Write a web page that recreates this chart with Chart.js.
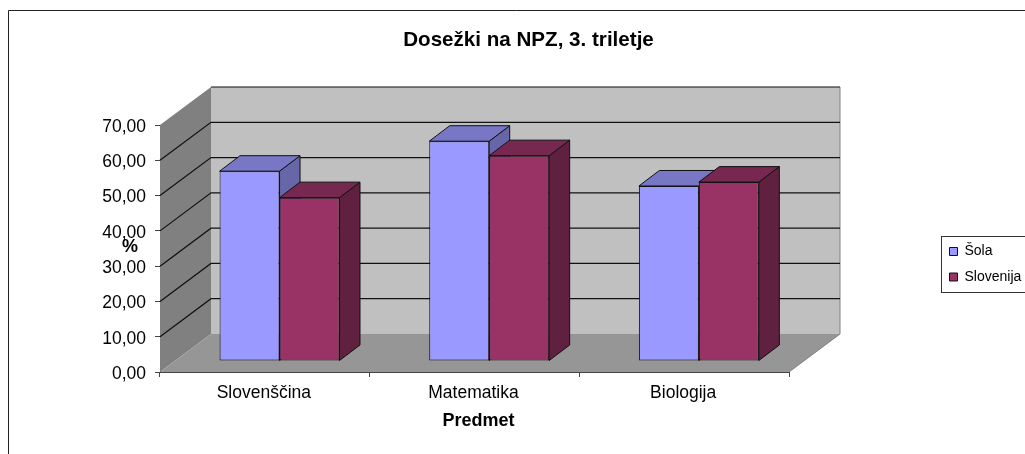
<!DOCTYPE html>
<html>
<head>
<meta charset="utf-8">
<style>html,body{margin:0;padding:0;background:#fff}canvas{display:block}</style>
<script src="https://cdn.jsdelivr.net/npm/chart.js@4"></script>
</head>
<body>
<canvas id="c" width="1025" height="454"></canvas>
<script>
const categories = ['Slovenščina', 'Matematika', 'Biologija'];
const sola = [53.8, 62.3, 49.6];
const slovenija = [46.3, 58.2, 50.7];
const seriesNames = ['Šola', 'Slovenija'];
const frontColors = ['#9999FF', '#993366'];
const topColors = ['#7777C6', '#772850'];
const sideColors = ['#6666A8', '#602040'];
const chartTitle = 'Dosežki na NPZ, 3. triletje';
const xTitle = 'Predmet';
const yTitle = '%';
const yMax = 70;
const yStep = 10;

const wallDx = 51, wallDy = -38;        // full depth of the 3D box
const barShiftX = 14.7, barShiftY = -11; // bars stand inside the box
const barDx = 20.5, barDy = -15.5;      // depth of one bar
const FONT = '"Liberation Sans", Arial, sans-serif';

function poly(ctx, pts, fill, stroke, lw) {
  ctx.beginPath();
  pts.forEach((p, i) => i ? ctx.lineTo(p[0], p[1]) : ctx.moveTo(p[0], p[1]));
  ctx.closePath();
  if (fill) { ctx.fillStyle = fill; ctx.fill(); }
  if (stroke) { ctx.strokeStyle = stroke; ctx.lineWidth = lw || 1; ctx.stroke(); }
}

const scene3d = {
  id: 'scene3d',
  afterLayout(chart) {
    const lg = chart.legend, t = chart.titleBlock;
    const w = lg.right - lg.left, h = lg.bottom - lg.top;
    lg.left = 938; lg.right = 938 + w; lg.top = 233; lg.bottom = 233 + h;
    t.left = 403; t.right = 654; t.top = 28; t.bottom = 52.7;
  },
  beforeDraw(chart) {
    const ctx = chart.ctx;
    ctx.save();
    ctx.strokeStyle = '#222'; ctx.lineWidth = 1;
    ctx.beginPath();
    ctx.moveTo(8.5, 454); ctx.lineTo(8.5, 10.5); ctx.lineTo(1025, 10.5);
    ctx.stroke();
    ctx.strokeStyle = '#333';
    ctx.strokeRect(941.5, 236.5, 90, 56);
    ctx.restore();
  },
  beforeDatasetsDraw(chart) {
    const ctx = chart.ctx, x = chart.scales.x, y = chart.scales.y;
    const L = x.left, R = x.right, T = y.getPixelForValue(yMax), B = y.getPixelForValue(0);
    ctx.save();
    // walls and floor
    poly(ctx, [[L + wallDx, T + wallDy], [R + wallDx, T + wallDy], [R + wallDx, B + wallDy], [L + wallDx, B + wallDy]], '#C0C0C0');
    poly(ctx, [[L, T], [L + wallDx, T + wallDy], [L + wallDx, B + wallDy], [L, B]], '#808080');
    poly(ctx, [[L, B], [L + wallDx, B + wallDy], [R + wallDx, B + wallDy], [R, B]], '#969696');
    ctx.strokeStyle = '#808080'; ctx.lineWidth = 1;
    ctx.beginPath();
    ctx.moveTo(R, B); ctx.lineTo(R + wallDx, B + wallDy); ctx.lineTo(R + wallDx, T + wallDy);
    ctx.stroke();
    // grid lines
    ctx.strokeStyle = '#111'; ctx.lineWidth = 1.2;
    y.ticks.forEach(tk => {
      if (tk.value === 0) return;
      const p = y.getPixelForValue(tk.value);
      ctx.beginPath();
      if (tk.value === yMax) {
        ctx.moveTo(L + wallDx, p + wallDy);
      } else {
        ctx.moveTo(L, p); ctx.lineTo(L + wallDx, p + wallDy);
      }
      ctx.lineTo(R + wallDx, p + wallDy);
      ctx.stroke();
    });
    // axis titles
    ctx.fillStyle = '#000'; ctx.textAlign = 'center'; ctx.textBaseline = 'middle';
    ctx.font = 'bold 18px ' + FONT;
    ctx.fillText(yTitle, 130, 247);
    ctx.fillText(xTitle, 478.5, 421);
    // bar side and top faces, then translate so that the library draws the fronts inside the box
    ctx.translate(barShiftX, barShiftY);
    chart.data.datasets.forEach((ds, di) => {
      chart.getDatasetMeta(di).data.forEach(bar => {
        const p = bar.getProps(['x', 'y', 'width', 'base'], true);
        const l = p.x - p.width / 2, r = p.x + p.width / 2;
        poly(ctx, [[r, p.y], [r + barDx, p.y + barDy], [r + barDx, p.base + barDy], [r, p.base]], sideColors[di], '#111', 1);
        poly(ctx, [[l, p.y], [l + barDx, p.y + barDy], [r + barDx, p.y + barDy], [r, p.y]], topColors[di], '#111', 1);
      });
    });
  },
  afterDatasetsDraw(chart) { chart.ctx.restore(); }
};

new Chart(document.getElementById('c'), {
  type: 'bar',
  data: {
    labels: categories,
    datasets: [
      { label: seriesNames[0], data: sola, backgroundColor: frontColors[0], borderColor: '#111', borderWidth: 1, borderSkipped: false, clip: false },
      { label: seriesNames[1], data: slovenija, backgroundColor: frontColors[1], borderColor: '#111', borderWidth: 1, borderSkipped: false, clip: false }
    ]
  },
  options: {
    responsive: false,
    animation: false,
    events: [],
    layout: { padding: { left: 100, right: 236, top: 100.3, bottom: 0 } },
    datasets: { bar: { barPercentage: 1, categoryPercentage: 0.572 } },
    scales: {
      x: {
        grid: { drawOnChartArea: false, drawTicks: true, tickLength: 5, color: '#444', offset: true },
        border: { color: '#444', width: 1 },
        ticks: { color: '#000', font: { family: FONT, size: 17.5 }, padding: 6, labelOffset: -1, maxRotation: 0 },
        afterFit(s) { s.height = 82; }
      },
      y: {
        min: 0, max: yMax,
        grid: { drawOnChartArea: false, drawTicks: true, tickLength: 5, color: '#444' },
        border: { color: '#444', width: 1 },
        ticks: {
          stepSize: yStep, color: '#000', padding: 9, labelOffset: 2,
          font: { family: FONT, size: 17.5 },
          callback: v => v.toFixed(2).replace('.', ',')
        },
        afterFit(s) { s.width = 60; }
      }
    },
    plugins: {
      title: { display: true, text: chartTitle, color: '#000', padding: 0, align: 'center',
        font: { family: FONT, size: 20.6, weight: 'bold' } },
      legend: {
        display: true, position: 'chartArea', align: 'start',
        labels: { boxWidth: 8, boxHeight: 8, padding: 11.5, color: '#000',
          font: { family: FONT, size: 14 } }
      },
      tooltip: { enabled: false }
    }
  },
  plugins: [scene3d]
});
</script>
</body>
</html>
